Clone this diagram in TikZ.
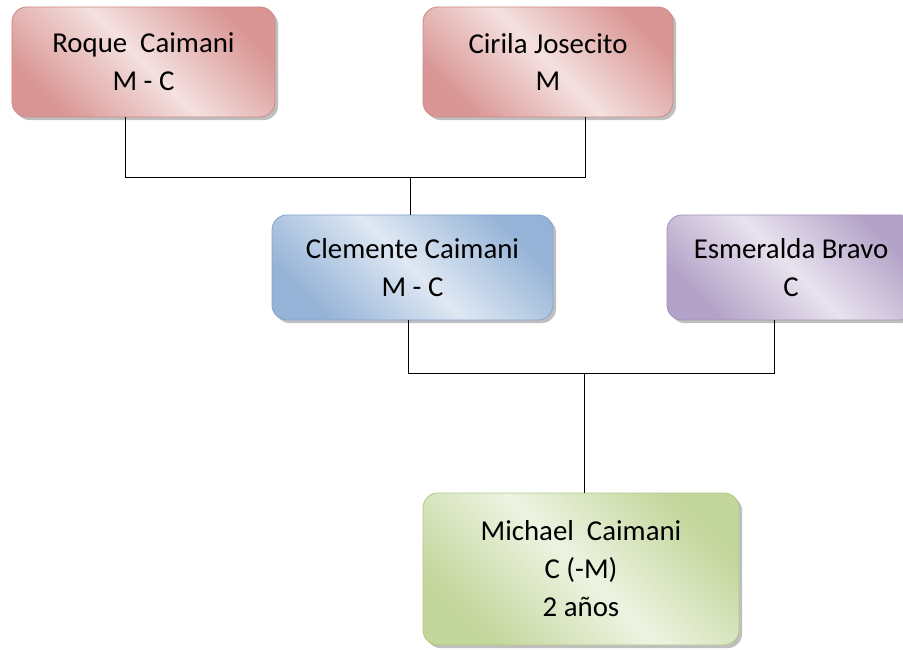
\documentclass[tikz,border=0pt]{standalone}
\usepackage{fontspec}
\setmainfont{Carlito}
\usepackage{tikz}
\usetikzlibrary{shadows}

\definecolor{redD}{HTML}{D99694}
\definecolor{redL}{HTML}{F4E1E0}
\definecolor{redB}{HTML}{CD8A88}
\definecolor{blueD}{HTML}{95B3D7}
\definecolor{blueL}{HTML}{DFE8F3}
\definecolor{blueB}{HTML}{86A5CD}
\definecolor{purD}{HTML}{B3A2C7}
\definecolor{purL}{HTML}{E8E2EE}
\definecolor{purB}{HTML}{A593BC}
\definecolor{greD}{HTML}{C3D69B}
\definecolor{greL}{HTML}{EDF3E1}
\definecolor{greB}{HTML}{B2C889}

\begin{document}
\begin{tikzpicture}[
    person/.style={rectangle, rounded corners=3.75mm, draw=#1B, line width=0.6pt,
        top color=#1D, bottom color=#1D, middle color=#1L, shading angle=-45,
        align=center, font=\fontsize{20.5}{27}\selectfont,
        drop shadow={shadow xshift=0.8mm, shadow yshift=-0.8mm, fill=black, opacity=0.25}},
    link/.style={line width=0.7pt, black},
]
    \useasboundingbox (0,0) rectangle (22.575,16.275);

    \node[person=red, minimum width=6.575cm, minimum height=2.75cm] (roque) at (3.5875,14.725) {Roque~~Caimani\\M - C};
    \node[person=red, minimum width=6.25cm, minimum height=2.75cm] (cirila) at (13.7,14.725) {Cirila Josecito\\M};

    \node[person=blue, minimum width=7.025cm, minimum height=2.625cm] (clemente) at (10.3125,9.5875) {Clemente Caimani\\M - C};
    \node[person=pur, minimum width=6.2cm, minimum height=2.625cm] (esmeralda) at (19.775,9.5875) {Esmeralda Bravo\\C};

    \node[person=gre, minimum width=7.9cm, minimum height=3.8cm] (michael) at (14.525,2.05) {Michael~~Caimani\\C (-M)\\2 años};

    \draw[link] ([xshift=-4.4mm]roque.south) -- ++(0,-1.5) -| ([xshift=9.25mm]cirila.south);
    \draw[link] ([xshift=-0.6mm]clemente.north) -- ++(0,0.95);

    \draw[link] ([xshift=-0.9mm]clemente.south) -- ++(0,-1.325) -| ([xshift=-4.25mm]esmeralda.south);
    \draw[link] ([xshift=0.75mm]michael.north) -- ++(0,3.0);
\end{tikzpicture}
\end{document}
